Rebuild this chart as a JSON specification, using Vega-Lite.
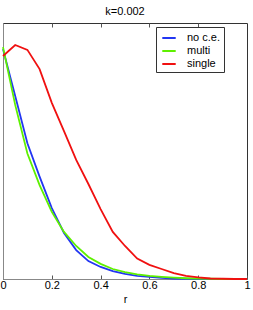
{
  "$schema": "https://vega.github.io/schema/vega-lite/v6.json",
  "width": 244,
  "height": 256,
  "autosize": {"type": "none"},
  "padding": {"left": 3, "top": 23, "right": 6, "bottom": 31},
  "background": "white",
  "title": {"text": "k=0.002", "fontSize": 11, "fontWeight": "normal", "font": "Liberation Sans", "color": "#000", "offset": 6},
  "config": {
    "view": {"stroke": "#333", "strokeWidth": 1},
    "axis": {"labelFont": "Liberation Sans", "titleFont": "Liberation Sans", "labelColor": "#000", "titleColor": "#000", "grid": false}
  },
  "data": {"values": [
    {"r":0,"v":0.898,"s":"no c.e."},{"r":0.05,"v":0.715,"s":"no c.e."},{"r":0.1,"v":0.53,"s":"no c.e."},{"r":0.15,"v":0.40,"s":"no c.e."},{"r":0.2,"v":0.277,"s":"no c.e."},{"r":0.25,"v":0.18,"s":"no c.e."},{"r":0.3,"v":0.113,"s":"no c.e."},{"r":0.35,"v":0.07,"s":"no c.e."},{"r":0.4,"v":0.047,"s":"no c.e."},{"r":0.45,"v":0.031,"s":"no c.e."},{"r":0.5,"v":0.02,"s":"no c.e."},{"r":0.55,"v":0.012,"s":"no c.e."},{"r":0.6,"v":0.008,"s":"no c.e."},{"r":0.65,"v":0.004,"s":"no c.e."},{"r":0.7,"v":0.002,"s":"no c.e."},{"r":0.75,"v":0.001,"s":"no c.e."},{"r":0.8,"v":0,"s":"no c.e."},{"r":0.85,"v":0,"s":"no c.e."},{"r":0.9,"v":0,"s":"no c.e."},{"r":0.95,"v":0,"s":"no c.e."},{"r":1,"v":0,"s":"no c.e."},
    {"r":0,"v":0.906,"s":"multi"},{"r":0.05,"v":0.68,"s":"multi"},{"r":0.1,"v":0.49,"s":"multi"},{"r":0.15,"v":0.367,"s":"multi"},{"r":0.2,"v":0.262,"s":"multi"},{"r":0.25,"v":0.184,"s":"multi"},{"r":0.3,"v":0.129,"s":"multi"},{"r":0.35,"v":0.086,"s":"multi"},{"r":0.4,"v":0.059,"s":"multi"},{"r":0.45,"v":0.039,"s":"multi"},{"r":0.5,"v":0.027,"s":"multi"},{"r":0.55,"v":0.018,"s":"multi"},{"r":0.6,"v":0.012,"s":"multi"},{"r":0.65,"v":0.008,"s":"multi"},{"r":0.7,"v":0.005,"s":"multi"},{"r":0.75,"v":0.003,"s":"multi"},{"r":0.8,"v":0.0015,"s":"multi"},{"r":0.85,"v":0.001,"s":"multi"},{"r":0.9,"v":0,"s":"multi"},{"r":0.95,"v":0,"s":"multi"},{"r":1,"v":0,"s":"multi"},
    {"r":0,"v":0.871,"s":"single"},{"r":0.05,"v":0.914,"s":"single"},{"r":0.1,"v":0.895,"s":"single"},{"r":0.15,"v":0.82,"s":"single"},{"r":0.2,"v":0.688,"s":"single"},{"r":0.25,"v":0.578,"s":"single"},{"r":0.3,"v":0.465,"s":"single"},{"r":0.35,"v":0.371,"s":"single"},{"r":0.4,"v":0.273,"s":"single"},{"r":0.45,"v":0.184,"s":"single"},{"r":0.5,"v":0.129,"s":"single"},{"r":0.55,"v":0.08,"s":"single"},{"r":0.6,"v":0.055,"s":"single"},{"r":0.65,"v":0.039,"s":"single"},{"r":0.7,"v":0.023,"s":"single"},{"r":0.75,"v":0.012,"s":"single"},{"r":0.8,"v":0.006,"s":"single"},{"r":0.85,"v":0.002,"s":"single"},{"r":0.9,"v":0.001,"s":"single"},{"r":0.95,"v":0,"s":"single"},{"r":1,"v":0,"s":"single"}
  ]},
  "layer": [
    {
      "mark": {"type": "line", "strokeWidth": 1.8},
      "encoding": {
        "x": {"field": "r", "type": "quantitative", "scale": {"domain": [0, 1], "nice": false, "zero": false},
          "axis": {"orient": "bottom", "title": "r", "titleFontSize": 11, "titleFontWeight": "normal", "titlePadding": 3, "labelFontSize": 11, "labelFlush": false, "labelPadding": 4, "values": [0, 0.2, 0.4, 0.6, 0.8, 1], "tickSize": -4, "tickColor": "#555", "domainColor": "#888", "labelBound": false, "labelOverlap": false, "labelExpr": "datum.value == 0 ? '0' : datum.value == 1 ? '1' : format(datum.value, '.1f')"}},
        "y": {"field": "v", "type": "quantitative", "scale": {"domain": [0, 1], "nice": false},
          "axis": {"title": null, "labels": false, "ticks": false, "domainColor": "#888"}},
        "color": {"field": "s", "type": "nominal", "sort": ["no c.e.", "multi", "single"],
          "scale": {"domain": ["no c.e.", "multi", "single"], "range": ["#2236f2", "#5ef000", "#f01010"]},
          "legend": {"title": null, "orient": "none", "legendX": 153, "legendY": 4, "symbolType": "stroke", "symbolStrokeWidth": 2, "symbolSize": 180, "labelFontSize": 11, "labelFont": "Liberation Sans", "labelColor": "#000", "strokeColor": "#333", "fillColor": "white", "padding": 3, "rowPadding": 0, "labelOffset": 10, "symbolOffset": 2}}
      }
    },
    {
      "mark": {"type": "line", "opacity": 0},
      "encoding": {
        "x": {"field": "r", "type": "quantitative", "scale": {"domain": [0, 1], "nice": false, "zero": false},
          "axis": {"orient": "top", "title": null, "labels": false, "values": [0.2, 0.4, 0.6, 0.8], "tickSize": -4, "tickColor": "#555", "domain": false}},
        "y": {"field": "v", "type": "quantitative"},
        "detail": {"field": "s"}
      }
    }
  ],
  "resolve": {"axis": {"x": "independent"}}
}
